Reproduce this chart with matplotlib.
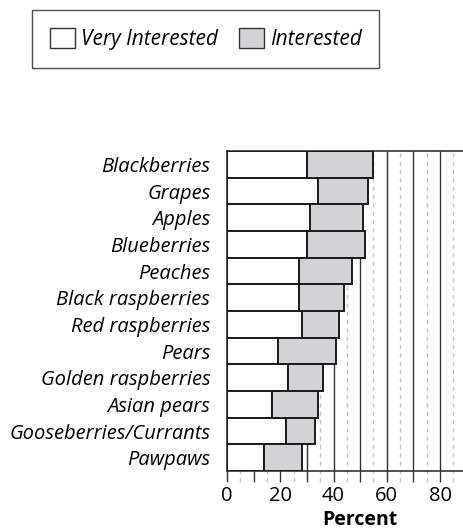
import matplotlib
matplotlib.use('Agg')
import matplotlib.pyplot as plt
from matplotlib.patches import Patch
import matplotlib.transforms as mtransforms

plt.rcParams['font.family'] = ['Open Sans', 'DejaVu Sans']

fruits = ['Blackberries', 'Grapes', 'Apples', 'Blueberries', 'Peaches',
          'Black raspberries', 'Red raspberries', 'Pears',
          'Golden raspberries', 'Asian pears', 'Gooseberries/Currants',
          'Pawpaws']
very_interested = [30, 34, 31, 30, 27, 27, 28, 19, 23, 17, 22, 14]
interested = [25, 19, 20, 22, 20, 17, 14, 22, 13, 17, 11, 14]
x_ticks = [0, 20, 40, 60, 80]
major_lines = [0, 10, 20, 30, 40, 50, 60, 70, 80, 90, 100]
minor_lines = [5, 15, 25, 35, 45, 55, 65, 75, 85, 95]

W, H = 464, 531
fig = plt.figure(figsize=(W / 100, H / 100), dpi=100)
# axis runs 0-100, the right part falls outside the figure (cropped like the original)
ax = fig.add_axes([227 / W, 60 / H, 266.25 / W, 320 / H])

ypos = list(range(len(fruits)))
ax.barh(ypos, very_interested, height=1.0, color='white',
        edgecolor='#1a1a1a', linewidth=1.4, zorder=3)
ax.barh(ypos, interested, left=very_interested, height=1.0, color='#d3d3d5',
        edgecolor='#1a1a1a', linewidth=1.4, zorder=3)

ax.set_xlim(0, 100)
ax.set_ylim(len(fruits) - 0.5, -0.5)

# grid lines, running a little below the axis like tick marks
trans = mtransforms.blended_transform_factory(ax.transData, ax.transAxes)
ax.vlines(major_lines, -0.035, 1, transform=trans, color='#333333',
          linewidth=1.0, clip_on=False, zorder=1)
ax.vlines(minor_lines, -0.035, 1, transform=trans, color='#c4c4c4',
          linewidth=1.0, linestyles=(0, (3, 3)), clip_on=False, zorder=1)

ax.set_xticks(x_ticks)
ax.set_xticklabels([str(t) for t in x_ticks], fontsize=14.5)
ax.set_yticks(ypos)
ax.set_yticklabels(fruits, fontsize=14.5, style='italic')
ax.tick_params(axis='x', length=0, pad=11)
ax.tick_params(axis='y', length=0, pad=12)

for side in ['left', 'bottom', 'top']:
    ax.spines[side].set_color('#333333')
    ax.spines[side].set_linewidth(1.2)
ax.spines['right'].set_visible(False)

ax.set_xlabel('Percent', fontsize=14, fontweight='bold', labelpad=3)

handles = [Patch(facecolor='white', edgecolor='#333333', linewidth=1.0),
           Patch(facecolor='#d3d3d5', edgecolor='#333333', linewidth=1.0)]
leg = fig.legend(handles, ['Very Interested', 'Interested'],
                 loc='upper left', bbox_to_anchor=(32 / W, 1 - 10 / H),
                 ncol=2, frameon=True, fancybox=False, borderaxespad=0,
                 prop={'size': 15, 'style': 'italic'},
                 handlelength=1.2, handleheight=1.1, handletextpad=0.3,
                 columnspacing=1.0, borderpad=0.85)
leg.get_frame().set_edgecolor('#222222')
leg.get_frame().set_linewidth(1.0)

fig.savefig('out.png', dpi=100)
